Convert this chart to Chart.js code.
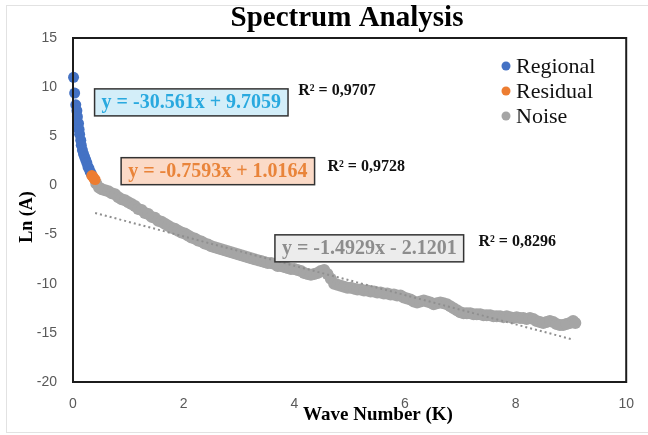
<!DOCTYPE html>
<html>
<head>
<meta charset="utf-8">
<script src="https://cdn.jsdelivr.net/npm/chart.js@4.4.0/dist/chart.umd.min.js"></script>
<style>
body { margin: 0; background: #fff; }
canvas { display: block; }
</style>
</head>
<body>
<canvas id="spectrum" width="648" height="435"></canvas>
<script>
// values
const regionalX = [0.01,0.03,0.05,0.07,0.08,0.10,0.11,0.12,0.14,0.15,0.17,0.19,0.21,0.23,0.25,0.27,0.29,0.31,0.33];
const regionalY = [11.0,9.4,8.2,7.6,7.0,6.3,5.7,5.2,4.6,4.1,3.6,3.2,2.9,2.6,2.3,1.9,1.7,1.4,1.2];

const residualX = [0.34,0.36,0.38,0.40];
const residualY = [1.0,0.9,0.7,0.6];

const noiseX = [0.42,0.47,0.52,0.58,0.64,0.70,0.76,0.82,0.88,0.94,
  1.00,1.06,1.12,1.18,1.24,1.30,1.36,1.42,1.48,1.54,
  1.60,1.66,1.72,1.78,1.84,1.90,1.96,2.02,2.08,2.14,
  2.20,2.26,2.32,2.38,2.44,2.50,2.56,2.62,2.68,2.74,
  2.80,2.86,2.92,2.98,3.04,3.10,3.16,3.22,3.28,3.34,
  3.40,3.46,3.52,3.58,3.64,3.70,3.76,3.82,3.88,3.94,
  4.00,4.06,4.12,4.18,4.24,4.30,4.36,4.42,4.48,4.54,
  4.60,4.66,4.72,4.78,4.84,4.90,4.96,5.02,5.08,5.14,
  5.20,5.26,5.32,5.38,5.44,5.50,5.56,5.62,5.68,5.74,
  5.80,5.86,5.92,5.98,6.04,6.10,6.16,6.22,6.28,6.34,
  6.40,6.46,6.52,6.58,6.64,6.70,6.76,6.82,6.88,6.94,
  7.00,7.06,7.12,7.18,7.24,7.30,7.36,7.42,7.48,7.54,
  7.60,7.66,7.72,7.78,7.84,7.90,7.96,8.02,8.08,8.14,
  8.20,8.26,8.32,8.38,8.44,8.50,8.56,8.62,8.68,8.74,
  8.80,8.86,8.92,8.98,9.04,9.08];
const noiseY = [0.2,-0.2,-0.4,-0.5,-0.6,-0.8,-0.9,-1.2,-1.4,-1.5,
  -1.7,-1.9,-2.1,-2.4,-2.5,-2.8,-2.9,-3.2,-3.3,-3.6,
  -3.7,-3.9,-4.1,-4.3,-4.4,-4.6,-4.8,-4.9,-5.1,-5.3,
  -5.4,-5.6,-5.7,-5.9,-6.0,-6.2,-6.3,-6.4,-6.5,-6.6,
  -6.7,-6.8,-6.9,-7.0,-7.1,-7.2,-7.3,-7.4,-7.5,-7.6,
  -7.7,-7.8,-7.9,-7.9,-8.0,-8.2,-8.2,-8.3,-8.4,-8.5,
  -8.5,-8.6,-8.7,-8.9,-9.0,-9.1,-9.0,-8.9,-8.7,-8.6,
  -9.0,-9.5,-10.0,-10.1,-10.2,-10.3,-10.4,-10.4,-10.5,-10.6,
  -10.6,-10.7,-10.7,-10.8,-10.8,-10.9,-10.9,-11.0,-11.0,-11.1,
  -11.1,-11.2,-11.2,-11.4,-11.5,-11.6,-11.8,-11.9,-11.8,-11.7,
  -11.8,-11.9,-12.1,-12.0,-11.9,-12.0,-12.1,-12.3,-12.5,-12.7,
  -12.9,-13.0,-13.0,-13.0,-13.1,-13.1,-13.1,-13.2,-13.2,-13.2,
  -13.3,-13.3,-13.3,-13.4,-13.3,-13.4,-13.5,-13.4,-13.5,-13.5,
  -13.6,-13.5,-13.6,-13.8,-13.9,-14.0,-13.9,-13.8,-13.9,-14.1,
  -14.2,-14.2,-14.1,-14.0,-13.8,-14.0];

// dotted trend of the noise part, ends
const trendX = [0.40, 9.05];
const trendY = [-2.8, -15.7];

const seriesNames = ["Regional", "Residual", "Noise"];
const equations = ["y = -30.561x + 9.7059", "y = -0.7593x + 1.0164", "y = -1.4929x - 2.1201"];
const rSquared = ["R\u00b2 = 0,9707", "R\u00b2 = 0,9728", "R\u00b2 = 0,8296"];

const xTicks = [0, 2, 4, 6, 8, 10];
const yTicks = [-20, -15, -10, -5, 0, 5, 10, 15];

function pts(xs, ys) {
  let out = [];
  for (let i = 0; i < xs.length; i++) out.push({x: xs[i], y: ys[i]});
  return out;
}

// where the equation boxes / R2 labels sit (data units)
const eqPlace = [{x: 0.39, y: 8.5}, {x: 0.87, y: 1.5}, {x: 3.65, y: -6.35}];
const r2Place = [{x: 4.07, y: 9.6}, {x: 4.6, y: 1.9}, {x: 7.33, y: -5.7}];
const eqStyle = [
  {text: "#29a9df", fill: "#d3eef9"},
  {text: "#e9843a", fill: "#fbdac7"},
  {text: "#8d8d8d", fill: "#ececec"}
];

const serif = '"Liberation Serif", "Times New Roman", serif';

const extras = {
  id: "extras",
  beforeDraw(chart) {
    const ctx = chart.ctx;
    ctx.save();
    ctx.fillStyle = "#fff";
    ctx.fillRect(0, 0, chart.width, chart.height);
    ctx.strokeStyle = "#e2e2e2";
    ctx.lineWidth = 1;
    ctx.strokeRect(6.5, 5.5, 645, 427);
    ctx.restore();
  },
  afterDraw(chart) {
    const ctx = chart.ctx;
    const a = chart.chartArea;
    const xs = chart.scales.x, ys = chart.scales.y;
    ctx.save();

    // box round the plot
    ctx.strokeStyle = "#1c1c1c";
    ctx.lineWidth = 2;
    ctx.strokeRect(a.left, a.top, a.right - a.left, a.bottom - a.top);

    // titles
    ctx.fillStyle = "#000";
    ctx.textAlign = "center";
    ctx.textBaseline = "middle";
    ctx.font = "bold 29px " + serif;
    ctx.fillText("Spectrum Analysis", 347, 19);
    ctx.font = "bold 19px " + serif;
    ctx.fillText("Wave Number (K)", 378, 415);
    ctx.save();
    ctx.translate(27, 217);
    ctx.rotate(-Math.PI / 2);
    ctx.font = "bold 18px " + serif;
    ctx.fillText("Ln (A)", 0, 0);
    ctx.restore();

    // equation boxes
    ctx.font = "bold 20px " + serif;
    ctx.textAlign = "left";
    for (let i = 0; i < equations.length; i++) {
      let px = xs.getPixelForValue(eqPlace[i].x);
      let py = ys.getPixelForValue(eqPlace[i].y);
      let w = ctx.measureText(equations[i]).width + 14;
      ctx.fillStyle = eqStyle[i].fill;
      ctx.fillRect(px, py - 13, w, 27);
      ctx.strokeStyle = "#333";
      ctx.lineWidth = 1.5;
      ctx.strokeRect(px, py - 13, w, 27);
      ctx.fillStyle = eqStyle[i].text;
      ctx.fillText(equations[i], px + 7, py + 1);
    }

    // R2 labels
    ctx.font = "bold 16px " + serif;
    ctx.fillStyle = "#111";
    for (let i = 0; i < rSquared.length; i++) {
      ctx.fillText(rSquared[i], xs.getPixelForValue(r2Place[i].x), ys.getPixelForValue(r2Place[i].y));
    }

    // legend, in series order
    ctx.font = "22px " + serif;
    for (let i = 0; i < seriesNames.length; i++) {
      let ds = chart.data.datasets.find(d => d.label === seriesNames[i]);
      let ly = 66 + i * 25;
      ctx.fillStyle = ds.backgroundColor;
      ctx.beginPath();
      ctx.arc(506, ly, 4.5, 0, Math.PI * 2);
      ctx.fill();
      ctx.fillStyle = "#111";
      ctx.fillText(ds.label, 516, ly + 1);
    }
    ctx.restore();
  }
};

const ctx = document.getElementById("spectrum").getContext("2d");

const chart = new Chart(ctx, {
  type: "scatter",
  data: {
    datasets: [
      {
        label: "noise trend",
        type: "line",
        data: pts(trendX, trendY),
        borderColor: "#8f8f8f",
        borderWidth: 2,
        borderDash: [2, 3],
        pointRadius: 0,
        fill: false,
        order: 0
      },
      {
        label: seriesNames[1],
        data: pts(residualX, residualY),
        backgroundColor: "#ed7d31",
        pointRadius: 5.5,
        borderWidth: 0,
        clip: false,
        order: 1
      },
      {
        label: seriesNames[0],
        data: pts(regionalX, regionalY),
        backgroundColor: "#4472c4",
        pointRadius: 5.5,
        borderWidth: 0,
        clip: false,
        order: 2
      },
      {
        label: seriesNames[2],
        data: pts(noiseX, noiseY),
        backgroundColor: "#a5a5a5",
        pointRadius: 6,
        borderWidth: 0,
        clip: false,
        order: 3
      }
    ]
  },
  options: {
    responsive: false,
    animation: false,
    devicePixelRatio: 1,
    layout: { padding: { left: 0, right: 10, top: 38, bottom: 0 } },
    plugins: {
      legend: { display: false },
      tooltip: { enabled: false }
    },
    scales: {
      x: {
        type: "linear",
        min: xTicks[0],
        max: xTicks[xTicks.length - 1],
        afterBuildTicks: s => { s.ticks = xTicks.map(v => ({value: v})); },
        afterFit: s => { s.height = 53; },
        grid: { display: false, drawTicks: false },
        border: { display: false },
        ticks: { color: "#595959", padding: 14, font: { family: '"Liberation Sans", Arial, sans-serif', size: 14 } }
      },
      y: {
        type: "linear",
        min: yTicks[0],
        max: yTicks[yTicks.length - 1],
        afterBuildTicks: s => { s.ticks = yTicks.map(v => ({value: v})); },
        afterFit: s => { s.width = 73; },
        grid: { display: false, drawTicks: false },
        border: { display: false },
        ticks: { color: "#595959", padding: 16, font: { family: '"Liberation Sans", Arial, sans-serif', size: 14 } }
      }
    }
  },
  plugins: [extras]
});
</script>
</body>
</html>
